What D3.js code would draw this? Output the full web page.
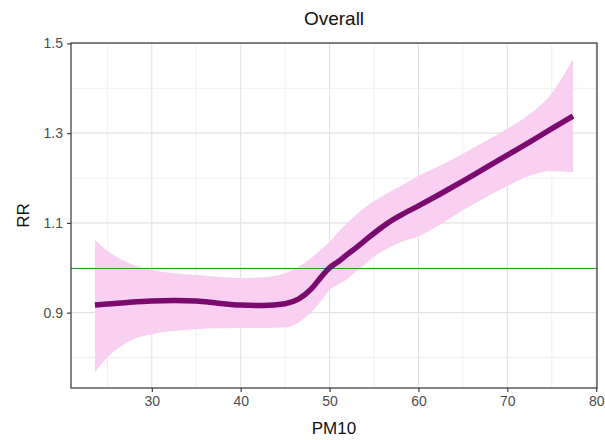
<!DOCTYPE html>
<html>
<head>
<meta charset="utf-8">
<script src="https://cdn.jsdelivr.net/npm/d3@7/dist/d3.min.js"></script>
<style>
  body { margin: 0; background: #fff; }
  text { font-family: "Liberation Sans", Arial, sans-serif; }
</style>
</head>
<body>
<div id="chart"></div>
<script>
// PM10 grid and estimated RR curve with its confidence band
const pm10 = [23.6, 25, 27.5, 30, 32.5, 35, 37.5, 40, 42.5, 45, 46.5, 48, 49, 50, 51, 52, 53, 54, 55, 56.5, 58, 60, 62.5, 65, 67.5, 70, 72.5, 75, 77.4];
const rr = [0.917, 0.919, 0.923, 0.926, 0.927, 0.926, 0.921, 0.917, 0.916, 0.920, 0.930, 0.954, 0.978, 1.0, 1.014, 1.030, 1.045, 1.061, 1.077, 1.099, 1.117, 1.138, 1.165, 1.193, 1.222, 1.251, 1.280, 1.310, 1.338];
const rrUpper = [1.062, 1.038, 1.010, 0.995, 0.988, 0.984, 0.980, 0.977, 0.979, 0.988, 1.002, 1.023, 1.040, 1.058, 1.080, 1.100, 1.118, 1.135, 1.148, 1.166, 1.182, 1.205, 1.228, 1.254, 1.282, 1.310, 1.342, 1.389, 1.466];
const rrLower = [0.767, 0.800, 0.837, 0.852, 0.859, 0.863, 0.865, 0.866, 0.866, 0.867, 0.878, 0.902, 0.925, 0.950, 0.963, 0.975, 0.992, 1.008, 1.025, 1.043, 1.057, 1.070, 1.097, 1.128, 1.156, 1.182, 1.205, 1.215, 1.213];

const xTicks = [30, 40, 50, 60, 70, 80];
const xMinor = [25, 35, 45, 55, 65, 75];
const yTicks = [0.9, 1.1, 1.3, 1.5];
const yMinor = [0.8, 1.0, 1.2, 1.4];
const refLine = 1.0;

const width = 605, height = 440;
const margin = {top: 43, right: 8, bottom: 52, left: 71};
const pw = width - margin.left - margin.right;
const ph = height - margin.top - margin.bottom;

const svg = d3.select("#chart").append("svg")
  .attr("width", width)
  .attr("height", height);

// ggplot-style 5% expansion of the data range
const xr = [d3.min(pm10), d3.max(pm10)];
const xpad = (xr[1] - xr[0]) * 0.05;
const x = d3.scaleLinear().domain([xr[0] - xpad, xr[1] + xpad]).range([0, pw]);
const yr = [d3.min(rrLower), d3.max(rrUpper)];
const ypad = (yr[1] - yr[0]) * 0.05;
const y = d3.scaleLinear().domain([yr[0] - ypad, yr[1] + ypad]).range([ph, 0]);

const g = svg.append("g").attr("transform", `translate(${margin.left},${margin.top})`);

// grid
g.selectAll(".xminor").data(xMinor).join("line")
  .attr("x1", d => x(d)).attr("x2", d => x(d))
  .attr("y1", 0).attr("y2", ph)
  .attr("stroke", "#ececec").attr("stroke-width", 0.8);
g.selectAll(".yminor").data(yMinor).join("line")
  .attr("x1", 0).attr("x2", pw)
  .attr("y1", d => y(d)).attr("y2", d => y(d))
  .attr("stroke", "#ececec").attr("stroke-width", 0.8);
g.selectAll(".xmajor").data(xTicks.filter(d => x(d) <= pw)).join("line")
  .attr("x1", d => x(d)).attr("x2", d => x(d))
  .attr("y1", 0).attr("y2", ph)
  .attr("stroke", "#e2e2e2").attr("stroke-width", 1.1);
g.selectAll(".ymajor").data(yTicks).join("line")
  .attr("x1", 0).attr("x2", pw)
  .attr("y1", d => y(d)).attr("y2", d => y(d))
  .attr("stroke", "#e2e2e2").attr("stroke-width", 1.1);

const pts = pm10.map((v, i) => ({x: v, fit: rr[i], lo: rrLower[i], hi: rrUpper[i]}));

// confidence band
g.append("path")
  .datum(pts)
  .attr("fill", "#f9d0f1")
  .attr("d", d3.area()
    .curve(d3.curveMonotoneX)
    .x(d => x(d.x))
    .y0(d => y(d.lo))
    .y1(d => y(d.hi)));

// reference line
g.append("line")
  .attr("x1", 0).attr("x2", pw)
  .attr("y1", Math.round(y(refLine)) + 0.5).attr("y2", Math.round(y(refLine)) + 0.5)
  .attr("stroke", "#22a022").attr("stroke-width", 1.3)
  .attr("shape-rendering", "crispEdges");

// fitted curve
g.append("path")
  .datum(pts)
  .attr("fill", "none")
  .attr("stroke", "#7a0a6e")
  .attr("stroke-width", 5.5)
  .attr("d", d3.line()
    .curve(d3.curveMonotoneX)
    .x(d => x(d.x))
    .y(d => y(d.fit)));

// panel border
g.append("rect")
  .attr("width", pw).attr("height", ph)
  .attr("fill", "none").attr("stroke", "#333").attr("stroke-width", 1.2);

// axes
const xAxis = g.append("g").attr("transform", `translate(0,${ph})`)
  .call(d3.axisBottom(x).tickValues(xTicks).tickFormat(d3.format("d")).tickSize(4).tickPadding(4));
const yAxis = g.append("g")
  .call(d3.axisLeft(y).tickValues(yTicks).tickFormat(d3.format(".1f")).tickSize(4).tickPadding(4));
[xAxis, yAxis].forEach(a => {
  a.select(".domain").remove();
  a.selectAll("line").attr("stroke", "#333").attr("stroke-width", 1.1);
  a.selectAll("text").attr("fill", "#4d4d4d")
    .style("font-size", "14px");
});

// titles
svg.append("text")
  .attr("x", margin.left + pw / 2).attr("y", 25)
  .attr("text-anchor", "middle")
  .style("font-size", "19px").attr("fill", "#111")
  .text("Overall");
svg.append("text")
  .attr("x", margin.left + pw / 2).attr("y", 434)
  .attr("text-anchor", "middle")
  .style("font-size", "17px").attr("fill", "#111")
  .text("PM10");
svg.append("text")
  .attr("transform", `translate(29,${margin.top + ph / 2}) rotate(-90)`)
  .attr("text-anchor", "middle")
  .style("font-size", "17px").attr("fill", "#111")
  .text("RR");
</script>
</body>
</html>
